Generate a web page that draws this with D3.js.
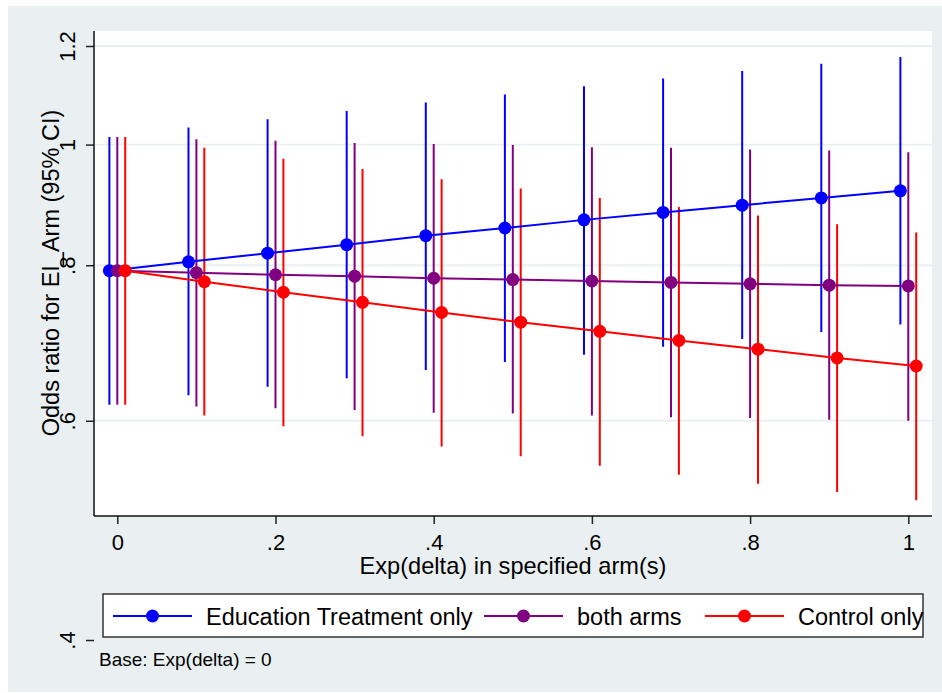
<!DOCTYPE html>
<html>
<head>
<meta charset="utf-8">
<script src="https://cdn.jsdelivr.net/npm/d3@7"></script>
<style>
  body { margin: 0; background: #fff; }
  text { font-family: "Liberation Sans", Arial, sans-serif; fill: #000; }
</style>
</head>
<body>
<svg id="chart"></svg>
<script>
// exp(delta) values on the x axis
const deltas = [0, 0.1, 0.2, 0.3, 0.4, 0.5, 0.6, 0.7, 0.8, 0.9, 1]

// odds ratios and 95% CI
const eduOR = [0.792, 0.805, 0.818, 0.831, 0.845, 0.857, 0.870, 0.882, 0.894, 0.906, 0.918]
const eduLo = [0.618, 0.629, 0.639, 0.649, 0.659, 0.669, 0.678, 0.688, 0.698, 0.707, 0.717]
const eduHi = [1.014, 1.032, 1.048, 1.064, 1.081, 1.097, 1.114, 1.130, 1.146, 1.161, 1.176]

const bothOR = [0.792, 0.789, 0.786, 0.784, 0.781, 0.779, 0.777, 0.775, 0.773, 0.771, 0.770]
const bothLo = [0.618, 0.616, 0.614, 0.612, 0.609, 0.608, 0.606, 0.604, 0.603, 0.601, 0.600]
const bothHi = [1.014, 1.010, 1.007, 1.003, 1.001, 0.999, 0.995, 0.994, 0.991, 0.989, 0.986]

const ctrlOR = [0.792, 0.776, 0.761, 0.747, 0.733, 0.720, 0.708, 0.696, 0.685, 0.674, 0.664]
const ctrlLo = [0.618, 0.606, 0.594, 0.583, 0.572, 0.562, 0.552, 0.543, 0.534, 0.526, 0.518]
const ctrlHi = [1.014, 0.994, 0.974, 0.956, 0.938, 0.922, 0.906, 0.891, 0.877, 0.863, 0.850]

const seriesNames = ["Education Treatment only", "both arms", "Control only"]
const yTicks = [0.4, 0.6, 0.8, 1, 1.2]
const xTicks = [0, 0.2, 0.4, 0.6, 0.8, 1]

// series are dodged a bit along x so the spikes don't overlap
const series = [
  { name: seriesNames[0], color: "#0000ff", shift: -0.01, or: eduOR, lo: eduLo, hi: eduHi },
  { name: seriesNames[1], color: "#800080", shift: 0, or: bothOR, lo: bothLo, hi: bothHi },
  { name: seriesNames[2], color: "#ff0000", shift: 0.01, or: ctrlOR, lo: ctrlLo, hi: ctrlHi },
]

const width = 942, height = 693
const plot = { left: 94, right: 932, top: 31, bottom: 516 }

const svg = d3.select("#chart")
    .attr("width", width)
    .attr("height", height)

// stata style outer region
svg.append("rect")
    .attr("x", 8).attr("y", 6)
    .attr("width", width - 8).attr("height", 686)
    .attr("fill", "#eaf0f2")

svg.append("rect")
    .attr("x", plot.left).attr("y", plot.top)
    .attr("width", plot.right - plot.left)
    .attr("height", plot.bottom - plot.top)
    .attr("fill", "#fff")

const xScale = d3.scaleLinear()
    .domain([0, 1])
    .range([117.3, 908.3])

// log scale, the .4 tick sits below the plot region
const yScale = d3.scaleLog()
    .domain([0.4, 1.2])
    .range([640, 46])

const fmt = d => d3.format("~g")(d).replace(/^0\./, ".")

// gridlines (only those inside the plot)
svg.append("g")
  .selectAll("line")
  .data(yTicks.filter(d => yScale(d) < plot.bottom))
  .join("line")
    .attr("x1", plot.left).attr("x2", plot.right)
    .attr("y1", d => yScale(d)).attr("y2", d => yScale(d))
    .attr("stroke", "#eaf0f2")
    .attr("stroke-width", 1.8)

// CI spikes
series.forEach(s => {
  svg.append("g")
    .selectAll("line")
    .data(deltas)
    .join("line")
      .attr("x1", (d, i) => xScale(d + s.shift))
      .attr("x2", (d, i) => xScale(d + s.shift))
      .attr("y1", (d, i) => yScale(s.lo[i]))
      .attr("y2", (d, i) => yScale(s.hi[i]))
      .attr("stroke", s.color)
      .attr("stroke-width", 2)
})

// connected point estimates
series.forEach(s => {
  const lineGenerator = d3.line()
      .x((d, i) => xScale(d + s.shift))
      .y((d, i) => yScale(s.or[i]))
  svg.append("path")
      .attr("d", lineGenerator(deltas))
      .attr("fill", "none")
      .attr("stroke", s.color)
      .attr("stroke-width", 2)
  svg.append("g")
    .selectAll("circle")
    .data(deltas)
    .join("circle")
      .attr("cx", d => xScale(d + s.shift))
      .attr("cy", (d, i) => yScale(s.or[i]))
      .attr("r", 6.5)
      .attr("fill", s.color)
})

// axes
const yAxis = svg.append("g")
    .attr("transform", `translate(${plot.left},0)`)
    .call(d3.axisLeft(yScale).tickValues(yTicks).tickFormat(fmt).tickSize(8))
yAxis.select(".domain").remove()
yAxis.selectAll(".tick line").attr("stroke", "#222").attr("stroke-width", 1.5)
yAxis.selectAll(".tick text")
    .attr("x", null).attr("dy", null)
    .attr("transform", "translate(-19,0) rotate(-90)")
    .attr("text-anchor", "middle")
    .style("font-size", "22px")
    .style("font-family", "Liberation Sans, Arial, sans-serif")
    .attr("fill", "#000")

const xAxis = svg.append("g")
    .attr("transform", `translate(0,${plot.bottom})`)
    .call(d3.axisBottom(xScale).tickValues(xTicks).tickFormat(fmt).tickSize(8))
xAxis.select(".domain").remove()
xAxis.selectAll(".tick line").attr("stroke", "#222").attr("stroke-width", 1.5)
xAxis.selectAll(".tick text")
    .attr("y", 34).attr("dy", null)
    .style("font-size", "22px")
    .style("font-family", "Liberation Sans, Arial, sans-serif")
    .attr("fill", "#000")

svg.append("line")
    .attr("x1", plot.left).attr("x2", plot.left)
    .attr("y1", plot.top).attr("y2", plot.bottom)
    .attr("stroke", "#111").attr("stroke-width", 1.5)
svg.append("line")
    .attr("x1", plot.left).attr("x2", plot.right)
    .attr("y1", plot.bottom).attr("y2", plot.bottom)
    .attr("stroke", "#111").attr("stroke-width", 1.5)

// axis titles
svg.append("text")
    .attr("x", 513).attr("y", 574)
    .attr("text-anchor", "middle")
    .style("font-size", "23.6px")
    .text("Exp(delta) in specified arm(s)")

svg.append("text")
    .attr("transform", "translate(59,273) rotate(-90)")
    .attr("text-anchor", "middle")
    .style("font-size", "23.5px")
    .text("Odds ratio for EI_Arm (95% CI)")

// legend
const legend = svg.append("g")
legend.append("rect")
    .attr("x", 103).attr("y", 594)
    .attr("width", 820).attr("height", 43)
    .attr("fill", "#fff")
    .attr("stroke", "#333").attr("stroke-width", 1.5)

const keyX = [113, 484, 705]
const keys = legend.selectAll("g.key")
  .data(series)
  .join("g")
    .attr("class", "key")
    .attr("transform", (d, i) => `translate(${keyX[i]},616)`)
keys.append("line")
    .attr("x1", 0).attr("x2", 79)
    .attr("stroke", d => d.color).attr("stroke-width", 2)
keys.append("circle")
    .attr("cx", 39.5).attr("r", 6.5)
    .attr("fill", d => d.color)
keys.append("text")
    .attr("x", 93).attr("y", 8.5)
    .style("font-size", "23.5px")
    .text(d => d.name)

svg.append("text")
    .attr("x", 99).attr("y", 666)
    .style("font-size", "19px")
    .text("Base: Exp(delta) = 0")
</script>
</body>
</html>
